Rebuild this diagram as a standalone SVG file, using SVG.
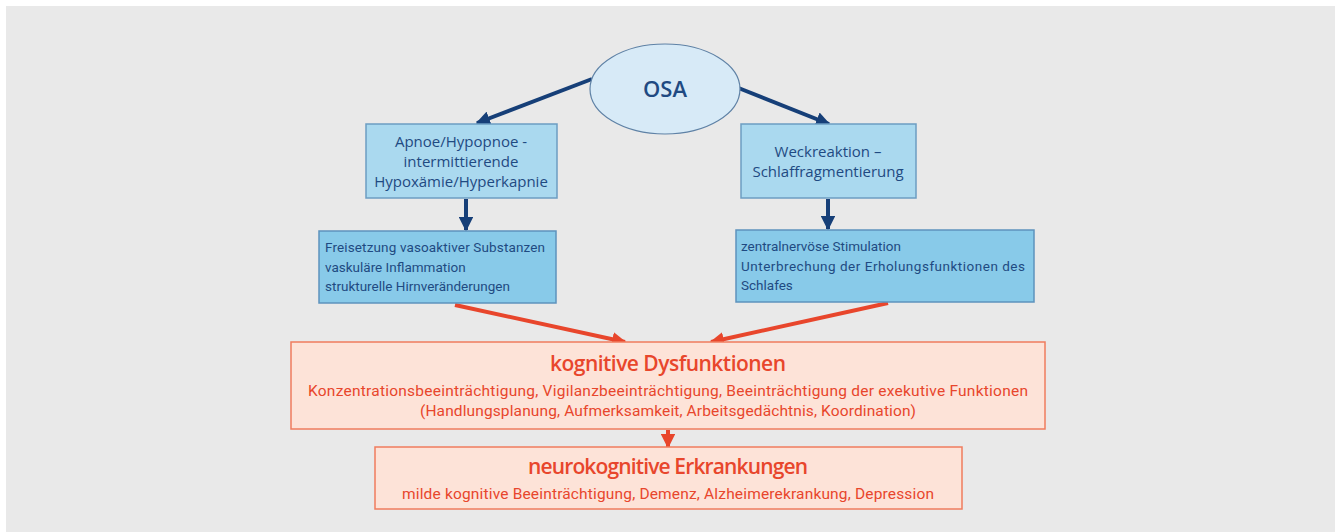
<svg xmlns="http://www.w3.org/2000/svg" width="1335" height="532" viewBox="0 0 1335 532">
<style>
.blue{fill:#1f4a82;font-family:"Open Sans","Liberation Sans",sans-serif}
.red{fill:#e8462c;font-family:"Open Sans","Liberation Sans",sans-serif}
.nar{font-family:Roboto,"Liberation Sans",sans-serif}
.bl{stroke:#163f78;stroke-width:4;fill:none}
.rl{stroke:#e8462c;stroke-width:4;fill:none}
.b1{fill:#aad9ef;stroke:#6c9dc2;stroke-width:1.5}
.b2{fill:#88cae9;stroke:#5d93bd;stroke-width:1.5}
.r{fill:#fde3d8;stroke:#ef7c5e;stroke-width:1.5}
</style>
<defs>
<marker id="ab" viewBox="0 0 10 10" refX="9" refY="5" markerWidth="3.6" markerHeight="3.6" orient="auto" markerUnits="strokeWidth"><path d="M0,0L10,5L0,10z" fill="#163f78"/></marker>
<marker id="ar" viewBox="0 0 10 10" refX="9" refY="5" markerWidth="3.6" markerHeight="3.6" orient="auto" markerUnits="strokeWidth"><path d="M0,0L10,5L0,10z" fill="#e8462c"/></marker>
</defs>
<rect x="0" y="0" width="1335" height="532" fill="#ffffff"/>
<rect x="6" y="6" width="1329" height="526" fill="#e9e9e9"/>
<g id="connectors">
<line class="bl" x1="592" y1="79" x2="477" y2="123" marker-end="url(#ab)"/>
<line class="bl" x1="736" y1="87" x2="829" y2="124" marker-end="url(#ab)"/>
<line class="bl" x1="466" y1="199" x2="466" y2="230" marker-end="url(#ab)"/>
<line class="bl" x1="828" y1="199" x2="828" y2="229" marker-end="url(#ab)"/>
<line class="rl" x1="455" y1="305" x2="625" y2="342" marker-end="url(#ar)"/>
<line class="rl" x1="888" y1="303" x2="711" y2="342" marker-end="url(#ar)"/>
<line class="rl" x1="668" y1="430" x2="668" y2="447" marker-end="url(#ar)"/>
</g>
<g id="osa">
<ellipse cx="665" cy="89" rx="75" ry="45" fill="#d7eaf7" stroke="#5f82a6" stroke-width="1.2"/>
<text class="blue" x="665" y="97" text-anchor="middle" font-size="22" font-weight="600">OSA</text>
</g>
<g id="apnoe">
<rect class="b1" x="366" y="124" width="191" height="74"/>
<text class="blue" x="461" y="147" text-anchor="middle" font-size="15">Apnoe/Hypopnoe -</text>
<text class="blue" x="461" y="167" text-anchor="middle" font-size="15">intermittierende</text>
<text class="blue" x="461" y="187" text-anchor="middle" font-size="15">Hypoxämie/Hyperkapnie</text>
</g>
<g id="weck">
<rect class="b1" x="741" y="124" width="175" height="74"/>
<text class="blue" x="828" y="157" text-anchor="middle" font-size="15">Weckreaktion –</text>
<text class="blue" x="828" y="177" text-anchor="middle" font-size="15">Schlaffragmentierung</text>
</g>
<g id="freisetzung">
<rect class="b2" x="319" y="231" width="237" height="72"/>
<text class="blue nar" x="325" y="252" font-size="13.5" textLength="220">Freisetzung vasoaktiver Substanzen</text>
<text class="blue nar" x="325" y="272" font-size="13.5">vaskuläre Inflammation</text>
<text class="blue nar" x="325" y="291" font-size="13.5">strukturelle Hirnveränderungen</text>
</g>
<g id="zentral">
<rect class="b2" x="736" y="230" width="298" height="72"/>
<text class="blue nar" x="741" y="251" font-size="13.5">zentralnervöse Stimulation</text>
<text class="blue nar" x="741" y="271" font-size="13.5" textLength="284">Unterbrechung der Erholungsfunktionen des</text>
<text class="blue nar" x="741" y="290" font-size="13.5">Schlafes</text>
</g>
<g id="kognitiv">
<rect class="r" x="291" y="342" width="754" height="87"/>
<text class="red" x="668" y="371" text-anchor="middle" font-size="21" font-weight="600" textLength="236">kognitive Dysfunktionen</text>
<text class="red nar" x="668" y="396" text-anchor="middle" font-size="15.5" textLength="720">Konzentrationsbeeinträchtigung, Vigilanzbeeinträchtigung, Beeinträchtigung der exekutive Funktionen</text>
<text class="red nar" x="668" y="416" text-anchor="middle" font-size="15.5" textLength="496">(Handlungsplanung, Aufmerksamkeit, Arbeitsgedächtnis, Koordination)</text>
</g>
<g id="neuro">
<rect class="r" x="375" y="447" width="587" height="62"/>
<text class="red" x="668" y="474" text-anchor="middle" font-size="21" font-weight="600" textLength="280">neurokognitive Erkrankungen</text>
<text class="red nar" x="668" y="499" text-anchor="middle" font-size="15.5" textLength="532">milde kognitive Beeinträchtigung, Demenz, Alzheimerekrankung, Depression</text>
</g>
</svg>
